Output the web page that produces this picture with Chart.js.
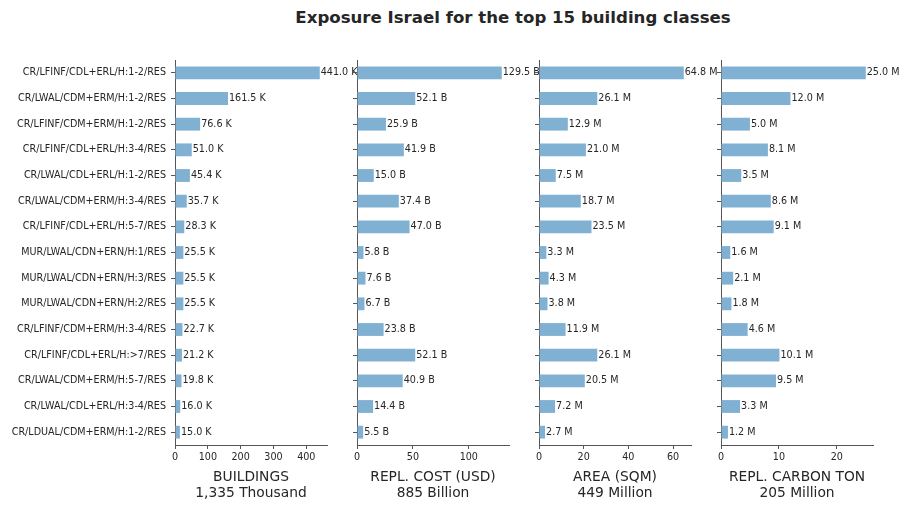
<!DOCTYPE html>
<html><head><meta charset="utf-8">
<script src="https://cdn.jsdelivr.net/npm/chart.js@4/dist/chart.umd.min.js"></script>
<style>
body{margin:0;background:#fff;width:910px;height:510px;overflow:hidden;position:relative;font-family:'DejaVu Sans';}
#title{position:absolute;left:0;width:1026px;top:8px;text-align:center;font-weight:bold;font-size:16.6px;color:#262626;white-space:nowrap;}
canvas{position:absolute;top:0;}
</style></head><body>
<div id="title">Exposure Israel for the top 15 building classes</div>
<script>
const categories = [
  "CR/LFINF/CDL+ERL/H:1-2/RES","CR/LWAL/CDM+ERM/H:1-2/RES","CR/LFINF/CDM+ERM/H:1-2/RES",
  "CR/LFINF/CDL+ERL/H:3-4/RES","CR/LWAL/CDL+ERL/H:1-2/RES","CR/LWAL/CDM+ERM/H:3-4/RES",
  "CR/LFINF/CDL+ERL/H:5-7/RES","MUR/LWAL/CDN+ERN/H:1/RES","MUR/LWAL/CDN+ERN/H:3/RES",
  "MUR/LWAL/CDN+ERN/H:2/RES","CR/LFINF/CDM+ERM/H:3-4/RES","CR/LFINF/CDL+ERL/H:>7/RES",
  "CR/LWAL/CDM+ERM/H:5-7/RES","CR/LWAL/CDL+ERL/H:3-4/RES","CR/LDUAL/CDM+ERM/H:1-2/RES"
];
const buildingsK = [441.0,161.5,76.6,51.0,45.4,35.7,28.3,25.5,25.5,25.5,22.7,21.2,19.8,16.0,15.0];
const costB      = [129.5,52.1,25.9,41.9,15.0,37.4,47.0,5.8,7.6,6.7,23.8,52.1,40.9,14.4,5.5];
const areaM      = [64.8,26.1,12.9,21.0,7.5,18.7,23.5,3.3,4.3,3.8,11.9,26.1,20.5,7.2,2.7];
const carbonM    = [25.0,12.0,5.0,8.1,3.5,8.6,9.1,1.6,2.1,1.8,4.6,10.1,9.5,3.3,1.2];
const panelTitles = [["BUILDINGS","1,335 Thousand"],["REPL. COST (USD)","885 Billion"],["AREA (SQM)","449 Million"],["REPL. CARBON TON","205 Million"]];
const units = ["K","B","M","M"];
const tickSteps = [100,50,20,10];
const series = [buildingsK, costB, areaM, carbonM];

const TXT = '#262626', AX = '#555555', BAR = '#80b1d3';
const FONT = 'DejaVu Sans';
Chart.defaults.font.family = FONT;

const valueLabels = {
  id: 'valueLabels',
  afterDatasetsDraw(chart, args, opts) {
    const ctx = chart.ctx;
    const meta = chart.getDatasetMeta(0);
    const data = chart.data.datasets[0].data;
    ctx.save();
    ctx.font = '9.6px "DejaVu Sans"';
    ctx.fillStyle = TXT;
    ctx.textBaseline = 'middle';
    ctx.textAlign = 'left';
    meta.data.forEach((bar, j) => {
      ctx.fillText(data[j].toFixed(1) + ' ' + opts.unit, bar.x + 1, bar.y);
    });
    ctx.restore();
  }
};

const plotLefts = [175, 357, 539, 721];
const plotW = 152;
const H = 510, TOP = 60, XH = 65;

series.forEach((vals, i) => {
  const yW = i === 0 ? 175 : 20;
  const padR = 50;
  const cv = document.createElement('canvas');
  const w = yW + plotW + padR;
  cv.width = w; cv.height = H;
  cv.style.width = w + 'px'; cv.style.height = H + 'px';
  cv.style.left = (plotLefts[i] - yW) + 'px';
  document.body.appendChild(cv);
  new Chart(cv, {
    type: 'bar',
    data: {
      labels: categories,
      datasets: [{ data: vals, backgroundColor: BAR, borderWidth: 0, barPercentage: 0.5, categoryPercentage: 1 }]
    },
    plugins: [valueLabels],
    options: {
      indexAxis: 'y',
      responsive: false,
      animation: false,
      devicePixelRatio: 1,
      layout: { padding: { top: TOP, right: padR, left: 0, bottom: 0 } },
      plugins: { legend: { display: false }, tooltip: { enabled: false }, valueLabels: { unit: units[i] } },
      scales: {
        y: {
          type: 'category',
          offset: true,
          grid: { display: true, drawOnChartArea: false, drawTicks: true, tickLength: 4, color: AX, offset: false },
          border: { display: true, color: AX, width: 1 },
          ticks: { display: i === 0, color: TXT, font: { size: 9.6 }, padding: 5, autoSkip: false },
          afterFit: s => { s.width = yW; }
        },
        x: {
          type: 'linear',
          min: 0,
          max: Math.max(...vals) * 1.05,
          grid: { display: true, drawOnChartArea: false, drawTicks: true, tickLength: 4, color: AX },
          border: { display: true, color: AX, width: 1 },
          ticks: { stepSize: tickSteps[i], includeBounds: false, color: TXT, font: { size: 9.6 }, padding: 3, maxRotation: 0 },
          title: { display: true, text: panelTitles[i], color: TXT, font: { size: 13.8, lineHeight: 1.16 }, padding: { top: 0, bottom: 9 } },
          afterFit: s => { s.height = XH; }
        }
      }
    }
  });
});
</script>
</body></html>
